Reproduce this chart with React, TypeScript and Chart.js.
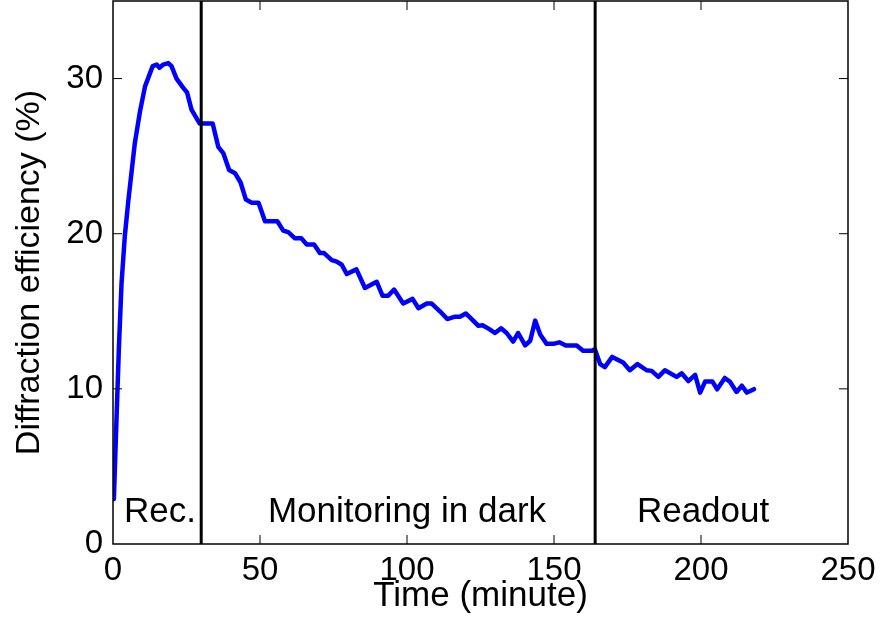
import React, { useEffect, useRef } from "react";
import { Chart, registerables } from "chart.js";

Chart.register(...registerables);

const timeMin: number[] = [
  0.3, 1.2, 2.0, 2.9, 4.0, 5.2, 7.4, 9.2, 10.9, 13.5, 14.9, 15.8, 17.1, 18.8, 19.9, 21.6, 23.9, 25.2, 26.7, 29.5,
  30.2, 33.9, 35.8, 37.5, 39.5, 41.5, 43.4, 45.2, 47.2, 49.5, 51.7, 55.9, 57.9, 59.6, 61.9, 64.1, 65.9, 68.4,
  70.4, 71.8, 74.4, 76.1, 77.8, 79.5, 82.8, 85.7, 89.7, 91.7, 93.6, 95.6, 98.7, 101.9, 103.9, 106.7, 108.4,
  111.2, 113.7, 116.3, 118.0, 120.0, 122.0, 124.3, 125.7, 128.0, 129.9, 132.0, 133.9, 136.1, 137.8, 140.2,
  141.9, 143.6, 145.3, 147.5, 149.8, 151.8, 154.0, 157.7, 159.9, 162.8, 163.9, 165.7, 167.3, 169.8, 173.5,
  175.8, 178.4, 181.5, 183.2, 185.5, 187.7, 191.7, 193.4, 195.7, 198.0, 199.7, 201.4, 203.9, 205.5, 208.1,
  209.8, 212.1, 213.9, 215.6, 218.0,
];
const efficiency: number[] = [
  2.9, 8.1, 12.6, 16.8, 19.8, 22.1, 25.8, 27.9, 29.5, 30.8, 30.9, 30.7, 30.9, 31.0, 30.8, 30.0, 29.4, 29.1, 28.0, 27.1,
  27.1, 27.1, 25.6, 25.2, 24.1, 23.9, 23.3, 22.2, 22.0, 22.0, 20.8, 20.8, 20.2, 20.1, 19.7, 19.7, 19.3, 19.3,
  18.75, 18.75, 18.3, 18.2, 18.0, 17.4, 17.7, 16.5, 16.9, 16.0, 16.0, 16.4, 15.5, 15.8, 15.2, 15.5, 15.5,
  15.0, 14.5, 14.65, 14.65, 14.86, 14.5, 14.06, 14.1, 13.85, 13.6, 13.9, 13.6, 13.05, 13.6, 12.8,
  13.1, 14.4, 13.5, 12.9, 12.9, 13.0, 12.8, 12.8, 12.45, 12.45, 12.55, 11.6, 11.4, 12.06, 11.7,
  11.2, 11.6, 11.2, 11.16, 10.77, 11.2, 10.77, 11.0, 10.5, 10.9, 9.76, 10.47, 10.47, 9.97, 10.7,
  10.47, 9.8, 10.2, 9.76, 9.98,
];

const xTicks: number[] = [0, 50, 100, 150, 200, 250];
const yTicks: number[] = [0, 10, 20, 30];
const phaseBoundaries: number[] = [30, 164];
const phaseLabels: string[] = ["Rec.", "Monitoring in dark", "Readout"];
const phaseLabelX: number[] = [16, 100, 200.7];
const phaseLabelY = 1.4;

const FONT = "'Liberation Sans', Arial, Helvetica, sans-serif";

const framePlugin = {
  id: "framePlugin",
  afterDatasetsDraw(chart: any) {
    const { ctx, chartArea } = chart;
    const xs = chart.scales.x;
    const ys = chart.scales.y;
    const { left, right, top, bottom } = chartArea;
    ctx.save();
    ctx.strokeStyle = "#000";
    ctx.lineWidth = 3;
    for (const b of phaseBoundaries) {
      const px = xs.getPixelForValue(b);
      ctx.beginPath();
      ctx.moveTo(px, top);
      ctx.lineTo(px, bottom);
      ctx.stroke();
    }
    ctx.lineWidth = 1.5;
    ctx.strokeRect(left, top, right - left, bottom - top);
    const tl = 9;
    ctx.lineWidth = 1;
    ctx.beginPath();
    for (const v of xTicks) {
      const px = xs.getPixelForValue(v);
      if (px <= left + 1 || px >= right - 1) continue;
      ctx.moveTo(px, bottom);
      ctx.lineTo(px, bottom - tl);
      ctx.moveTo(px, top);
      ctx.lineTo(px, top + tl);
    }
    for (const v of yTicks) {
      const py = ys.getPixelForValue(v);
      if (py <= top + 1 || py >= bottom - 1) continue;
      ctx.moveTo(left, py);
      ctx.lineTo(left + tl, py);
      ctx.moveTo(right, py);
      ctx.lineTo(right - tl, py);
    }
    ctx.stroke();
    ctx.fillStyle = "#000";
    ctx.font = `35px ${FONT}`;
    ctx.textAlign = "center";
    ctx.textBaseline = "alphabetic";
    phaseLabels.forEach((lab, i) => {
      ctx.fillText(lab, xs.getPixelForValue(phaseLabelX[i]), ys.getPixelForValue(phaseLabelY));
    });
    ctx.restore();
  },
};

export default function App() {
  const ref = useRef<HTMLCanvasElement | null>(null);
  useEffect(() => {
    if (!ref.current) return;
    const points = timeMin.map((t, i) => ({ x: t, y: efficiency[i] }));
    const chart = new Chart(ref.current, {
      type: "scatter",
      data: {
        datasets: [
          {
            data: points,
            showLine: true,
            borderColor: "#0000ff",
            backgroundColor: "#0000ff",
            borderWidth: 4.5,
            pointRadius: 0,
            tension: 0,
            borderJoinStyle: "round",
            borderCapStyle: "round",
          } as any,
        ],
      },
      options: {
        responsive: false,
        animation: false,
        layout: { padding: { top: 1, right: 32, bottom: 0, left: 0 } },
        plugins: { legend: { display: false }, tooltip: { enabled: false } },
        scales: {
          x: {
            type: "linear",
            min: 0,
            max: 250,
            grid: { display: false, drawTicks: false },
            border: { display: false },
            afterBuildTicks: (s: any) => {
              s.ticks = xTicks.map((v) => ({ value: v }));
            },
            afterFit: (s: any) => {
              s.height = 73;
              s.paddingLeft = 0;
              s.paddingRight = 0;
            },
            ticks: {
              color: "#000",
              font: { family: FONT, size: 33 },
              padding: 7,
              maxRotation: 0,
              autoSkip: false,
            },
            title: {
              display: true,
              text: "Time (minute)",
              color: "#000",
              font: { family: FONT, size: 35 },
              padding: { top: 0, bottom: 0 },
            },
          },
          y: {
            type: "linear",
            min: 0,
            max: 35,
            grid: { display: false, drawTicks: false },
            border: { display: false },
            afterBuildTicks: (s: any) => {
              s.ticks = yTicks.map((v) => ({ value: v }));
            },
            afterFit: (s: any) => {
              s.width = 113;
              s.paddingTop = 0;
              s.paddingBottom = 0;
            },
            ticks: {
              color: "#000",
              font: { family: FONT, size: 33 },
              padding: 10,
              autoSkip: false,
            },
            title: {
              display: true,
              text: "Diffraction efficiency (%)",
              color: "#000",
              font: { family: FONT, size: 34 },
              padding: { top: 9, bottom: 0 },
            },
          },
        },
      },
      plugins: [framePlugin],
    });
    return () => chart.destroy();
  }, []);
  return (
    <canvas
      ref={ref}
      width={880}
      height={617}
      style={{ position: "absolute", left: 0, top: 0, display: "block", background: "#fff" }}
    />
  );
}
